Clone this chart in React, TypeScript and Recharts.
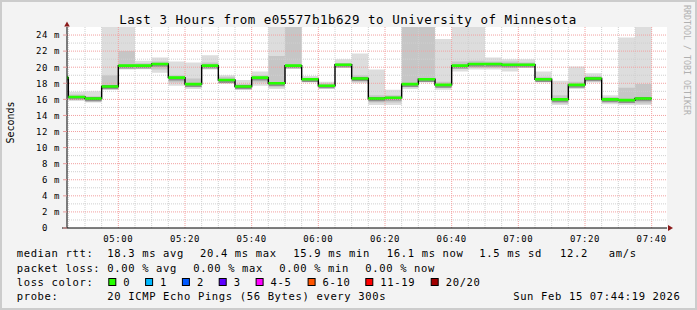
import React from "react";
import {
  ComposedChart,
  Area,
  Line,
  XAxis,
  YAxis,
  CartesianGrid,
  ReferenceLine,
  ReferenceDot,
} from "recharts";

// 5 minute buckets, start time in minutes after midnight (04:40 .. 07:35)
const bucketStart = [
  280, 285, 290, 295, 300, 305, 310, 315, 320, 325, 330, 335, 340, 345, 350, 355, 360, 365,
  370, 375, 380, 385, 390, 395, 400, 405, 410, 415, 420, 425, 430, 435, 440, 445, 450, 455,
];
const lastBucketEnd = 460;

// median rtt (ms)
const medianMs = [
  18.7, 16.3, 16.1, 17.6, 20.2, 20.2, 20.4, 18.7, 17.9, 20.2, 18.4, 17.6, 18.7, 18.0, 20.2, 18.5, 17.7, 20.3,
  18.6, 16.1, 16.2, 17.9, 18.5, 17.8, 20.2, 20.4, 20.4, 20.3, 20.3, 18.5, 16.0, 17.8, 18.6, 16.0, 15.9, 16.1,
];
// smoke: fastest / slowest ping of each bucket
const smokeLow = [
  18.4, 15.8, 15.6, 17.2, 19.7, 19.75, 19.3, 17.7, 17.3, 19.7, 17.9, 17.2, 17.7, 17.3, 19.9, 18.1, 17.4, 19.9,
  18.0, 15.3, 15.3, 17.3, 18.1, 17.2, 19.45, 19.7, 19.7, 19.45, 19.9, 18.1, 15.3, 17.3, 18.1, 15.4, 15.3, 15.3,
];
const smokeHigh = [
  19.1, 16.95, 17.0, 26, 26, 20.8, 21.2, 20.7, 20.6, 21.5, 19.0, 18.4, 19.45, 26, 26, 18.9, 18.2, 21.0,
  21.7, 19.7, 17.2, 26, 26, 23.5, 26, 26, 21.2, 21.0, 21.0, 19.45, 18.3, 20.1, 19.25, 16.5, 23.7, 26,
];
// smoke: inner (denser) part of each bucket
const smokeMidLow = [
  18.5, 16.0, 15.7, 17.3, 19.8, 19.9, 19.7, 18.1, 17.5, 19.9, 18.1, 17.3, 18.1, 17.5, 20.0, 18.3, 17.5, 20.0,
  18.3, 15.6, 15.6, 17.5, 18.2, 17.4, 19.8, 19.9, 19.9, 19.9, 20.0, 18.2, 15.5, 17.5, 18.3, 15.6, 15.5, 15.5,
];
const smokeMidHigh = [
  18.9, 16.6, 16.4, 19.0, 22.0, 20.5, 20.7, 19.0, 18.6, 20.6, 18.8, 17.9, 19.0, 21.4, 26, 18.7, 18.0, 20.5,
  19.0, 16.5, 16.5, 26, 26, 18.2, 20.7, 20.8, 20.7, 20.7, 20.6, 18.8, 16.5, 18.2, 18.9, 16.3, 17.45, 17.9,
];

const timeTicks = [300, 320, 340, 360, 380, 400, 420, 440, 460];
const timeLabels = ["05:00", "05:20", "05:40", "06:00", "06:20", "06:40", "07:00", "07:20", "07:40"];
const msTicks = [0, 2, 4, 6, 8, 10, 12, 14, 16, 18, 20, 22, 24];

const title = "Last 3 Hours from e05577b1b629 to University of Minnesota";
const rttStats = ["18.3 ms avg", "20.4 ms max", "15.9 ms min", "16.1 ms now", "1.5 ms sd", "12.2   am/s"];
const lossStats = ["0.00 % avg", "0.00 % max", "0.00 % min", "0.00 % now"];
const lossLabels = ["0", "1", "2", "3", "4-5", "6-10", "11-19", "20/20"];
const lossColors = ["#26ff00", "#00b8ff", "#0059ff", "#5e00ff", "#ff00ff", "#ff5500", "#ff0000", "#a10000"];
const probeText = "20 ICMP Echo Pings (56 Bytes) every 300s";
const stampText = "Sun Feb 15 07:44:19 2026";

const X_DOMAIN: [number, number] = [284.6, 464.6];
const MONO = "'DejaVu Sans Mono', monospace";

// legend layout
const rttX = [107.3, 200, 293.3, 386.8, 479.3, 560];
const lossX = [107.3, 193.3, 279.3, 365.3];
const boxX = [108.3, 145.1, 181.9, 218.7, 255.6, 307.6, 365.3, 430.7];

const rows = bucketStart.map((t, i) => ({
  t,
  med: medianMs[i],
  outer: [smokeLow[i], smokeHigh[i]],
  mid: [smokeMidLow[i], smokeMidHigh[i]],
  core: [medianMs[i] - 0.35, medianMs[i] + 0.12],
}));
rows.push({ ...rows[rows.length - 1], t: lastBucketEnd });

// green median: flat pieces only, the steps are drawn black
const medianSegments = bucketStart.flatMap((t, i) => {
  const end = i + 1 < bucketStart.length ? bucketStart[i + 1] : lastBucketEnd;
  return [
    { t, g: medianMs[i] as number | null },
    { t: end, g: medianMs[i] as number | null },
    { t: end, g: null },
  ];
});

const minorMinutes: number[] = [];
for (let m = 285; m <= 460; m += 5) if (m % 20 !== 0) minorMinutes.push(m);
const minorMs: number[] = [];
for (let v = 1; v <= 23; v += 2) minorMs.push(v);

const MsTick = (props: any) => {
  const { x, y, payload } = props;
  const v = payload.value;
  return (
    <g>
      <line x1={x + 3} x2={x + 7} y1={y} y2={y} stroke="#e89a9a" />
      <text
        x={v === 0 ? x - 12 : x}
        y={y + 3.3}
        textAnchor="end"
        fontFamily={MONO}
        fontSize={9}
        letterSpacing={0.6}
        fill="#000"
      >
        {v === 0 ? "0" : `${v} m`}
      </text>
    </g>
  );
};

const TimeTick = (props: any) => {
  const { x, y, payload } = props;
  const idx = timeTicks.indexOf(payload.value);
  return (
    <text x={x} y={y + 13.5} textAnchor="middle" fontFamily={MONO} fontSize={9} letterSpacing={0.6} fill="#000">
      {timeLabels[idx]}
    </text>
  );
};

const UpArrow = (props: any) => {
  const { cx, cy } = props;
  return <path d={`M${cx - 2.8},${cy - 0.5} L${cx + 2.8},${cy - 0.5} L${cx},${cy - 5.5} Z`} fill="#8b1a1a" />;
};
const RightArrow = (props: any) => {
  const { cx, cy } = props;
  return <path d={`M${cx + 1},${cy - 3} L${cx + 1},${cy + 3} L${cx + 6},${cy} Z`} fill="#8b1a1a" />;
};

export default function App() {
  const legendText = { fontFamily: MONO, fontSize: 10.5, letterSpacing: 0.65, fill: "#000", whiteSpace: "pre" as const };
  return (
    <div style={{ position: "absolute", left: 0, top: 0, width: 697, height: 310, background: "#f3f3f3" }}>
      <ComposedChart width={697} height={310} data={rows} margin={{ top: 27, right: 30, bottom: 0, left: 0 }}>
        <CartesianGrid fill="#ffffff" horizontal={false} vertical={false} />
        <XAxis
          type="number"
          dataKey="t"
          domain={X_DOMAIN}
          allowDataOverflow
          ticks={timeTicks}
          interval={0}
          height={82}
          axisLine={false}
          tickLine={false}
          tickSize={0}
          tickMargin={0}
          tick={(p: any) => <TimeTick {...p} />}
        />
        <YAxis
          type="number"
          domain={[0, 25]}
          allowDataOverflow
          ticks={msTicks}
          interval={0}
          width={67}
          axisLine={false}
          tickLine={false}
          tickSize={0}
          tickMargin={7}
          tick={(p: any) => <MsTick {...p} />}
        />
        <Area type="stepAfter" dataKey="outer" fill="#dddddd" fillOpacity={1} stroke="none" isAnimationActive={false} />
        <Area type="stepAfter" dataKey="mid" fill="#c6c6c6" fillOpacity={1} stroke="none" isAnimationActive={false} />
        <Area type="stepAfter" dataKey="core" fill="#8e8e8e" fillOpacity={1} stroke="none" isAnimationActive={false} />
        {minorMinutes.map((m) => (
          <ReferenceLine key={`vx${m}`} x={m} stroke="#cfcfcf" strokeDasharray="1 1" />
        ))}
        {minorMs.map((v) => (
          <ReferenceLine key={`hy${v}`} y={v} stroke="#cfcfcf" strokeDasharray="1 1" />
        ))}
        {timeTicks.map((m) => (
          <ReferenceLine key={`VX${m}`} x={m} stroke="#f2a0a0" strokeDasharray="1 1" />
        ))}
        {msTicks.filter((v) => v > 0).map((v) => (
          <ReferenceLine key={`HY${v}`} y={v} stroke="#f2a0a0" strokeDasharray="1 1" />
        ))}
        <Line
          type="stepAfter"
          dataKey="med"
          stroke="#000000"
          strokeWidth={1.4}
          dot={false}
          activeDot={false}
          isAnimationActive={false}
        />
        <Line
          data={medianSegments}
          type="linear"
          dataKey="g"
          stroke="#26ff00"
          strokeWidth={2.6}
          dot={false}
          activeDot={false}
          connectNulls={false}
          isAnimationActive={false}
        />
        <ReferenceLine
          segment={[{ x: 283.1, y: 0 }, { x: X_DOMAIN[1], y: 0 }]}
          stroke="#000"
          ifOverflow="visible"
        />
        <ReferenceLine
          segment={[{ x: X_DOMAIN[0], y: 0 }, { x: X_DOMAIN[0], y: 25 }]}
          stroke="#000"
          ifOverflow="visible"
        />
        <ReferenceDot x={X_DOMAIN[0]} y={25} ifOverflow="visible" shape={(p: any) => <UpArrow {...p} />} />
        <ReferenceDot x={X_DOMAIN[1]} y={0} ifOverflow="visible" shape={(p: any) => <RightArrow {...p} />} />
      </ComposedChart>

      <svg width={697} height={310} style={{ position: "absolute", left: 0, top: 0, pointerEvents: "none" }}>
        <text x={348} y={23.5} textAnchor="middle" fontFamily={MONO} fontSize={12.5} letterSpacing={0.5} fill="#000">
          {title}
        </text>
        <text
          transform="translate(10.5,122.5) rotate(-90)"
          textAnchor="middle"
          dominantBaseline="central"
          fontFamily={MONO}
          fontSize={10}
          fill="#000"
        >
          Seconds
        </text>
        <text
          transform="translate(686.5,60) rotate(90)"
          textAnchor="middle"
          dominantBaseline="central"
          fontFamily={MONO}
          fontSize={8.3}
          fill="#b0b0b0"
        >
          RRDTOOL / TOBI OETIKER
        </text>

        <text x={16.7} y={257.3} style={legendText}>median rtt:</text>
        {rttStats.map((s, i) => (
          <text key={s} x={rttX[i]} y={257.3} style={legendText}>{s}</text>
        ))}
        <text x={16.7} y={271.5} style={legendText}>packet loss:</text>
        {lossStats.map((s, i) => (
          <text key={s} x={lossX[i]} y={271.5} style={legendText}>{s}</text>
        ))}
        <text x={16.7} y={285.7} style={legendText}>loss color:</text>
        {lossLabels.map((s, i) => (
          <g key={s}>
            <rect x={boxX[i] + 0.5} y={278.5} width={7} height={7} fill={lossColors[i]} stroke="#000" />
            <text x={boxX[i] + 15} y={285.7} style={legendText}>{s}</text>
          </g>
        ))}
        <text x={16.7} y={300} style={legendText}>probe:</text>
        <text x={107.3} y={300} style={legendText}>{probeText}</text>
        <text x={680.5} y={300} textAnchor="end" style={legendText}>{stampText}</text>
      </svg>
      <div
        style={{
          position: "absolute",
          inset: 0,
          border: "2px solid #cccccc",
          boxSizing: "border-box",
          pointerEvents: "none",
        }}
      />
    </div>
  );
}
